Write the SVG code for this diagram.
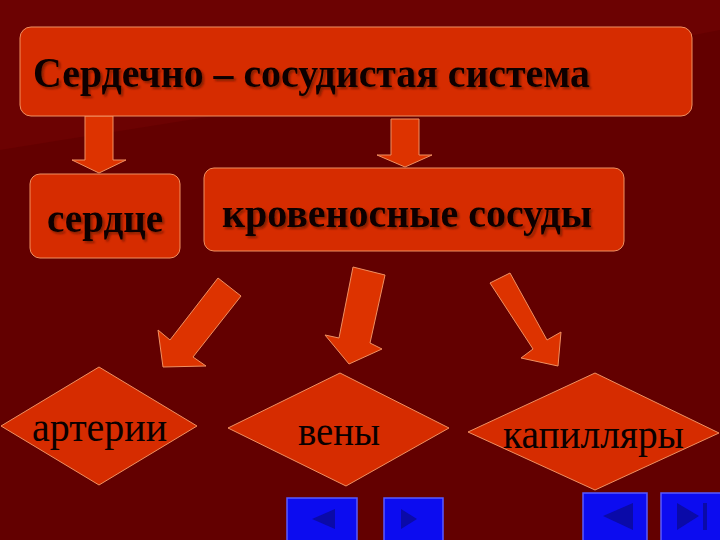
<svg xmlns="http://www.w3.org/2000/svg" width="720" height="540" viewBox="0 0 720 540">
<defs>
<style>
.box{fill:#d62c00;stroke:#f09060;stroke-width:1}
.arr{fill:#dd3300;stroke:#f09060;stroke-width:1}
.bt{font-family:"Liberation Serif","Times New Roman",serif;font-weight:bold;fill:#0a0000;filter:url(#shadow)}
.rt{font-family:"Liberation Serif","Times New Roman",serif;fill:#0a0000}
.btn{fill:#0c0cf0;stroke:#5a5aff;stroke-width:1.5}
.tri{fill:#0a0aa8}
</style>
<filter id="shadow" x="-5%" y="-20%" width="110%" height="140%">
<feDropShadow dx="2" dy="2" stdDeviation="0.8" flood-color="#4a0a00" flood-opacity="0.6"/>
</filter>
</defs>
<rect x="0" y="0" width="720" height="540" fill="#630000"/>
<path d="M0 0 H720 V30 C520 70 250 110 0 150 Z" fill="#6c0202"/>
<g id="connectors">
<polygon class="arr" points="85,116 113,116 113,160 126,160 99,173 72,160 85,160"/>
<polygon class="arr" points="391,119 419,119 419,155 432,155 405,167 377,155 391,155"/>
<polygon class="arr" points="218,278 241,296 193,357 206,366 163,367 158,330 170,340"/>
<polygon class="arr" points="353,267 385,275 370,343 382,349 349,364 325,335 339,338"/>
<polygon class="arr" points="490,283 510,273 547,340 561,332 558,366 521,358 533,349"/>
</g>
<g id="node-system">
<rect class="box" x="20" y="27" width="672" height="89" rx="11"/>
<text class="bt" x="33" y="87" font-size="42" textLength="557" lengthAdjust="spacingAndGlyphs">Сердечно – сосудистая система</text>
</g>
<g id="node-heart">
<rect class="box" x="30" y="174" width="150" height="84" rx="10"/>
<text class="bt" x="47" y="232" font-size="42" textLength="116" lengthAdjust="spacingAndGlyphs">сердце</text>
</g>
<g id="node-vessels">
<rect class="box" x="204" y="168" width="420" height="83" rx="10"/>
<text class="bt" x="222" y="227" font-size="43" textLength="370" lengthAdjust="spacingAndGlyphs">кровеносные сосуды</text>
</g>
<g id="node-arteries">
<polygon class="box" points="99,367 197,426 99,485 1,426"/>
<text class="rt" x="32" y="441" font-size="42" textLength="135" lengthAdjust="spacingAndGlyphs">артерии</text>
</g>
<g id="node-veins">
<polygon class="box" points="340,373 449,428 346,486 228,428"/>
<text class="rt" x="298" y="445" font-size="42" textLength="82" lengthAdjust="spacingAndGlyphs">вены</text>
</g>
<g id="node-capillaries">
<polygon class="box" points="595,373 719,433 595,490 468,432"/>
<text class="rt" x="503" y="448" font-size="42" textLength="181" lengthAdjust="spacingAndGlyphs">капилляры</text>
</g>
<g id="nav-buttons">
<rect class="btn" x="287" y="498" width="70" height="44"/>
<polygon class="tri" points="312,519 335,509 335,529"/>
<rect class="btn" x="384" y="498" width="59" height="44"/>
<polygon class="tri" points="417,519 401,509 401,529"/>
<rect class="btn" x="583" y="493" width="64" height="49"/>
<polygon class="tri" points="603,516 633,503 633,530"/>
<rect class="btn" x="661" y="493" width="61" height="49"/>
<polygon class="tri" points="699,516 677,503 677,530"/>
<rect class="tri" x="703" y="503" width="4" height="27"/>
</g>
</svg>
